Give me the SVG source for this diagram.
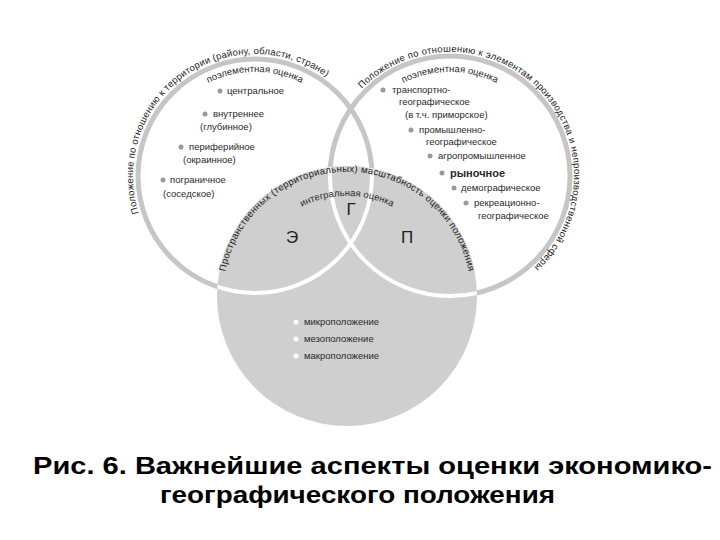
<svg xmlns="http://www.w3.org/2000/svg" width="720" height="540" viewBox="0 0 720 540">
<style>
.ring{fill:none;stroke:#c6c6c6;stroke-width:5}
.wring{fill:none;stroke:#fff;stroke-width:4}
.t{font-family:"Liberation Sans",Arial,sans-serif;font-size:9.5px;fill:#2a2a2a}
.arc{font-family:"Liberation Sans",Arial,sans-serif;font-size:9.5px;fill:#222}
.big{font-family:"Liberation Sans",Arial,sans-serif;font-size:17px;fill:#222}
.cap{font-family:"Liberation Sans",Arial,sans-serif;font-size:24px;font-weight:bold;fill:#000}
.b{fill:#9a9a9a}
.w{fill:#fff}
</style>
<defs>
<clipPath id="cb"><circle cx="347" cy="296" r="130"/></clipPath>
<path id="pL" d="M141.1,219.7 A122,122 0 0 1 331.8,81.2"/>
<path id="pLi" d="M195.3,90.8 A104,104 0 0 1 314.7,90.8"/>
<path id="pR" d="M357.9,93 A124,124 0 1 1 529.7,271"/>
<path id="pRi" d="M390.3,90.8 A104,104 0 0 1 509.7,90.8"/>
<path id="pB" d="M224.2,278.7 A124,124 0 0 1 469.8,278.7"/>
<path id="pBi" d="M297,209.4 A100,100 0 0 1 397,209.4"/>
</defs>
<rect width="720" height="540" fill="#fff"/>
<g id="circles">
<circle class="ring" cx="255" cy="176" r="117"/>
<circle class="ring" cx="450" cy="176" r="120"/>
<circle cx="347" cy="296" r="130" fill="#cfcfcf"/>
<g clip-path="url(#cb)">
<circle class="wring" cx="255" cy="176" r="117"/>
<circle class="wring" cx="450" cy="176" r="120"/>
</g>
</g>
<g id="left">
<text class="arc"><textPath href="#pL" startOffset="50%" text-anchor="middle" textLength="305" lengthAdjust="spacing">Положение по отношению к территории (району, области, стране)</textPath></text>
<text class="t"><textPath href="#pLi" startOffset="50%" text-anchor="middle">поэлементная оценка</textPath></text>
<circle class="b" cx="220" cy="91" r="2.5"/><text class="t" x="227" y="94">центральное</text>
<circle class="b" cx="205" cy="114" r="2.5"/><text class="t" x="213" y="117">внутреннее</text>
<text class="t" x="200" y="130">(глубинное)</text>
<circle class="b" cx="181" cy="147" r="2.5"/><text class="t" x="189" y="150">периферийное</text>
<text class="t" x="183" y="163">(окраинное)</text>
<circle class="b" cx="163" cy="180" r="2.5"/><text class="t" x="170" y="183">пограничное</text>
<text class="t" x="163" y="197">(соседское)</text>
</g>
<g id="right">
<text class="arc"><textPath href="#pR" startOffset="50%" text-anchor="middle" textLength="395" lengthAdjust="spacing">Положение по отношению к элементам производства и непроизводственной сферы</textPath></text>
<text class="t"><textPath href="#pRi" startOffset="50%" text-anchor="middle">поэлементная оценка</textPath></text>
<circle class="b" cx="383" cy="90" r="2.5"/><text class="t" x="392" y="93">транспортно-</text>
<text class="t" x="399" y="105">географическое</text>
<text class="t" x="405" y="118">(в т.ч. приморское)</text>
<circle class="b" cx="411" cy="130" r="2.5"/><text class="t" x="419" y="133">промышленно-</text>
<text class="t" x="426" y="145">географическое</text>
<circle class="b" cx="430" cy="156" r="2.5"/><text class="t" x="438" y="159">агропромышленное</text>
<circle class="b" cx="442" cy="173" r="2.5"/><text class="t" x="450" y="177" style="font-size:11px;font-weight:bold">рыночное</text>
<circle class="b" cx="454" cy="188" r="2.5"/><text class="t" x="461" y="191">демографическое</text>
<circle class="b" cx="466" cy="203" r="2.5"/><text class="t" x="474" y="206">рекреационно-</text>
<text class="t" x="478" y="219">географическое</text>
</g>
<g id="bottom">
<text class="arc"><textPath href="#pB" startOffset="50%" text-anchor="middle" textLength="340" lengthAdjust="spacing">Пространственных (территориальных) масштабность оценки положения</textPath></text>
<text class="t"><textPath href="#pBi" startOffset="50%" text-anchor="middle">интегральная оценка</textPath></text>
<text class="big" x="292" y="243" text-anchor="middle">Э</text>
<text class="big" x="351" y="215" text-anchor="middle">Г</text>
<text class="big" x="407" y="243" text-anchor="middle">П</text>
<circle class="w" cx="296" cy="322" r="2.5"/><text class="t" x="304" y="325">микроположение</text>
<circle class="w" cx="296" cy="339" r="2.5"/><text class="t" x="304" y="342">мезоположение</text>
<circle class="w" cx="296" cy="356" r="2.5"/><text class="t" x="304" y="359">макроположение</text>
</g>
<g id="caption">
<text class="cap" x="33" y="474" textLength="679" lengthAdjust="spacingAndGlyphs">Рис. 6. Важнейшие аспекты оценки экономико-</text>
<text class="cap" x="160" y="503" textLength="395" lengthAdjust="spacingAndGlyphs">географического положения</text>
</g>
</svg>
